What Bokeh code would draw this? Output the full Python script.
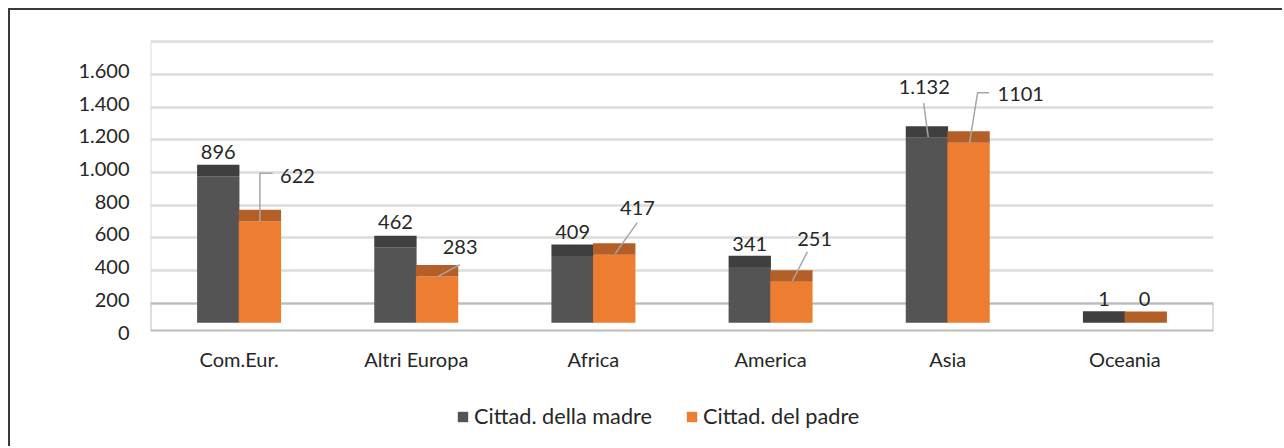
from bokeh.plotting import figure
from bokeh.models import Range1d, FixedTicker, Legend, LegendItem
from bokeh.embed import file_html
from bokeh.resources import INLINE
from bokeh.core.properties import value

# ---------------- data ----------------
categories = ["Com.Eur.", "Altri Europa", "Africa", "America", "Asia", "Oceania"]
madre = [896, 462, 409, 341, 1132, 1]      # Cittad. della madre
padre = [622, 283, 417, 251, 1101, 0]      # Cittad. del padre
series_names = ["Cittad. della madre", "Cittad. del padre"]
y_ticks = [0, 200, 400, 600, 800, 1000, 1200, 1400, 1600]

madre_labels = [f"{v:,}".replace(",", ".") for v in madre]
padre_labels = [str(v) for v in padre]

# ---------------- style / layout constants ----------------
FONT = "Lato"
FS = "20px"
FS_LEG = "21.7px"
TXT = "#262626"
DARK, DARK_TOP = "#545454", "#3f3f3f"
ORANGE, ORANGE_TOP = "#ED7D31", "#B45F27"
GRID = "#dcdcdc"
FLOOR = "#bcbcbc"
LEADER = "#a6a6a6"

BASE = 59          # raised floor where the bars stand (3-D look)
DEPTH = 70         # visible top face of each 3-D column
WALL = 178         # back-wall offset of the gridlines
FLOOR_FRONT = 12
BAR_OFF, BAR_W = 0.1175, 0.239

PX_Y = 0.16354                     # px per unit
W, H = 1274, 438                   # canvas (page offset 10, 10)
TOP = 26                           # frame top in canvas px
FRAME_W = 1063
FRAME_H = H - TOP
Y1 = (332 - 10 - TOP) / PX_Y
Y0 = Y1 - FRAME_H / PX_Y
AXIS_AT = (332 - 336) / PX_Y       # x axis line position (data units)
PX_X = FRAME_W / len(categories)

# label offsets (px, relative to bar centre / top of front face; negative = up)
madre_dx = [0, 0, 0, 0, -2.7, 0]
madre_dy = [-24, -25, -23.7, -23.5, -50.5, -24]
padre_dx = [37.6, 23.1, 23.2, 23.2, 52.2, -1.2]
padre_dy = [-45.6, -29.3, -47, -43.3, -49, -24.3]
madre_leader = [None, None, None, None, [(1.3, -0.5), (-3.3, -34.5)], None]
padre_leader = [[(0, 0), (0, -48), (12.6, -48)],
                [(0.7, 0), (22.7, -12)],
                [(1, -1), (23, -32)],
                [(1, -1), (16, -30)],
                [(1, 0), (9, -50), (20.5, -50)],
                None]

p = figure(width=W, height=H, output_backend="svg", toolbar_location=None,
           x_range=Range1d(0, len(categories)), y_range=Range1d(Y0, Y1),
           min_border_left=140, min_border_right=W - 140 - FRAME_W,
           min_border_top=TOP, min_border_bottom=0)
p.styles = {"margin-left": "8px", "margin-top": "8px",
            "border-left": "2px solid #3a3a3a", "border-top": "2px solid #3a3a3a"}
p.outline_line_color = None
p.background_fill_color = "white"
p.border_fill_color = "white"

# axes
p.xaxis.fixed_location = AXIS_AT
p.xaxis.ticker = FixedTicker(ticks=[i + 0.5 for i in range(len(categories))])
p.xaxis.major_label_overrides = {i + 0.5: c for i, c in enumerate(categories)}
p.yaxis.ticker = FixedTicker(ticks=y_ticks)
p.yaxis.major_label_overrides = {t: f"{t:,}".replace(",", ".") for t in y_ticks}
for ax in (p.xaxis[0], p.yaxis[0]):
    ax.axis_line_color = None
    ax.major_tick_line_color = None
    ax.minor_tick_line_color = None
    ax.major_tick_out = 0
    ax.major_tick_in = 0
    ax.major_label_text_font = FONT
    ax.major_label_text_font_size = FS
    ax.major_label_text_color = TXT
p.xaxis.major_label_standoff = 10
p.yaxis.major_label_standoff = 21

# back-wall gridlines (shifted up by the 3-D depth)
p.xgrid.grid_line_color = None
p.ygrid.ticker = FixedTicker(ticks=[t + WALL for t in y_ticks])
p.ygrid.grid_line_color = GRID
p.ygrid.grid_line_width = 2.5
# wall left edge
p.segment(x0=[0], y0=[WALL], x1=[0], y1=[WALL + y_ticks[-1]], line_color=GRID, line_width=2)
# floor
p.quad(left=[0], right=[len(categories)], bottom=[FLOOR_FRONT], top=[WALL],
       fill_color=None, line_color=FLOOR, line_width=2)

xm = [i + 0.5 - BAR_OFF for i in range(len(categories))]
xp = [i + 0.5 + BAR_OFF for i in range(len(categories))]

r_m = p.vbar(x=xm, bottom=BASE, top=[BASE + v for v in madre], width=BAR_W,
             fill_color=DARK, line_color=None)
p.vbar(x=xm, bottom=[BASE + v for v in madre], top=[BASE + v + DEPTH for v in madre],
       width=BAR_W, fill_color=DARK_TOP, line_color=None)
r_p = p.vbar(x=xp, bottom=BASE, top=[BASE + v for v in padre], width=BAR_W,
             fill_color=ORANGE, line_color=None)
p.vbar(x=xp, bottom=[BASE + v for v in padre], top=[BASE + v + DEPTH for v in padre],
       width=BAR_W, fill_color=ORANGE_TOP, line_color=None)

# leader lines
lx, ly = [], []
for xs_, vals, leaders in ((xm, madre, madre_leader), (xp, padre, padre_leader)):
    for x0, v, ld in zip(xs_, vals, leaders):
        if ld is None:
            continue
        lx.append([x0 + ox / PX_X for ox, oy in ld])
        ly.append([BASE + v - oy / PX_Y for ox, oy in ld])
p.multi_line(xs=lx, ys=ly, line_color=LEADER, line_width=1.5)

# data labels
for xs_, vals, labs, dx, dy in ((xm, madre, madre_labels, madre_dx, madre_dy),
                                 (xp, padre, padre_labels, padre_dx, padre_dy)):
    p.text(x=xs_, y=[BASE + v for v in vals], text=labs, x_offset=dx, y_offset=dy,
           text_align="center", text_baseline="middle", text_font=value(FONT),
           text_font_size=FS, text_color=TXT)

legend = Legend(items=[LegendItem(label=series_names[0], renderers=[r_m]),
                       LegendItem(label=series_names[1], renderers=[r_p])],
                orientation="horizontal", location=(306, 19))
legend.glyph_width = 13
legend.glyph_height = 13
legend.label_standoff = 5
legend.spacing = 33
legend.padding = 0
legend.margin = 0
legend.border_line_color = None
legend.background_fill_color = None
legend.label_text_font = FONT
legend.label_text_font_size = FS_LEG
legend.label_text_color = TXT
p.add_layout(legend, "center")

open("out.html", "w").write(file_html(p, INLINE))
